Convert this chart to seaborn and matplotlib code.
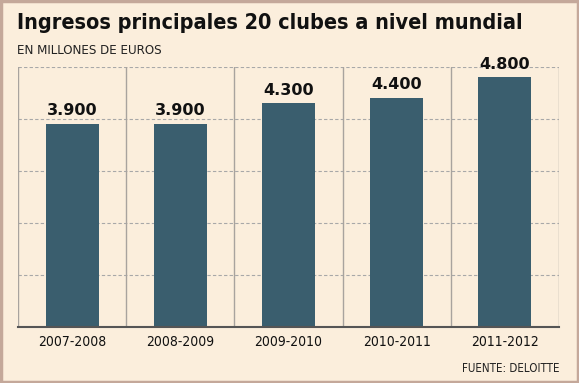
import matplotlib
matplotlib.use("Agg")
import matplotlib.pyplot as plt
import seaborn as sns
import pandas as pd
from matplotlib.patches import Rectangle

seasons = ["2007-2008", "2008-2009", "2009-2010", "2010-2011", "2011-2012"]
ingresos = [3900, 3900, 4300, 4400, 4800]
labels = ["3.900", "3.900", "4.300", "4.400", "4.800"]

df = pd.DataFrame({"temporada": seasons, "ingresos": ingresos})

bg = "#FBEEDC"
bar_color = "#3A5E6E"

sns.set_style("white")
plt.rcParams["font.family"] = ["DejaVu Sans"]

fig = plt.figure(figsize=(5.79, 3.83), dpi=100, facecolor=bg)
ax = fig.add_axes([18 / 579, 56 / 383, 541 / 579, 260 / 383])
ax.set_facecolor(bg)

sns.barplot(data=df, x="temporada", y="ingresos", color=bar_color,
            width=0.49, saturation=1, linewidth=0, ax=ax, zorder=3)

ax.set_ylim(0, 5000)
ax.set_xlim(-0.5, 4.5)

# dashed horizontal grid
for v in range(1000, 5001, 1000):
    ax.axhline(v, color="#A8A8A8", lw=0.8, ls=(0, (3, 2)), zorder=1)
# solid vertical separators
for i in range(len(seasons) + 1):
    ax.axvline(i - 0.5, color="#A8A39E", lw=1.0, zorder=2)

for sp in ["top", "right", "left"]:
    ax.spines[sp].set_visible(False)
ax.spines["bottom"].set_color("#555555")
ax.spines["bottom"].set_linewidth(1.5)
ax.spines["bottom"].set_zorder(4)

ax.set_yticks([])
ax.set_xlabel("")
ax.set_ylabel("")
ax.tick_params(axis="x", length=0, labelsize=10, pad=6, labelcolor="#111111")
for t in ax.get_xticklabels():
    t.set_fontstretch("condensed")

for i, (v, t) in enumerate(zip(ingresos, labels)):
    ax.text(i, v + 110, t, ha="center", va="bottom", fontsize=11.5,
            fontweight="bold", color="#111111", zorder=5)

fig.text(17 / 579, 1 - 23 / 383, "Ingresos principales 20 clubes a nivel mundial",
         fontsize=15.5, fontweight="bold", color="#111111", va="center", ha="left",
         fontstretch="condensed")
fig.text(17 / 579, 1 - 50 / 383, "EN MILLONES DE EUROS", fontsize=9.5,
         color="#222222", va="center", ha="left", fontstretch="condensed")
fig.text(560 / 579, 1 - 369 / 383, "FUENTE: DELOITTE", fontsize=8.3,
         color="#222222", va="center", ha="right", fontstretch="condensed")

fig.patches.append(Rectangle((0.001, 0.002), 0.997, 0.995, transform=fig.transFigure,
                             fill=False, edgecolor="#C4A89A", lw=2.5))

fig.savefig("out.png", dpi=100, facecolor=bg)
